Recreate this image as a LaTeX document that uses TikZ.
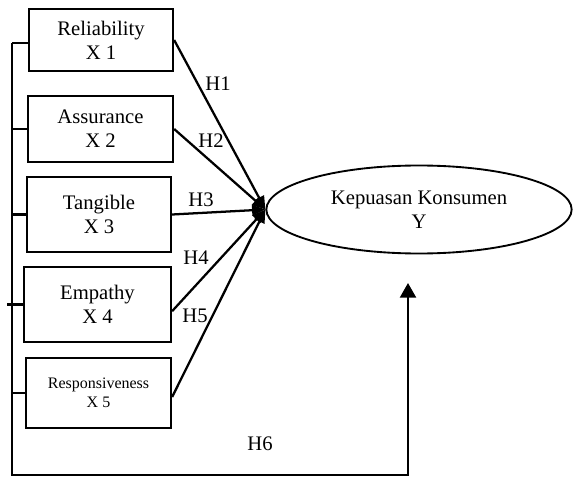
\documentclass[tikz,border=0pt]{standalone}
\usepackage{fontspec}
\setmainfont{Liberation Serif}
\usetikzlibrary{arrows.meta,positioning,shapes.geometric}

\begin{document}
\begin{tikzpicture}[>={Triangle[length=10pt,width=8pt]},x=0.75pt,y=-0.75pt,line width=1.7pt]
\tikzstyle{block}=[draw, rectangle, align=center, inner sep=0pt, font=\fontsize{15.5}{18}\selectfont]
\tikzstyle{lbl}=[inner sep=0pt, font=\fontsize{15.5}{18}\selectfont]
\useasboundingbox (0,0) rectangle (574,477);

\node[block, minimum width=108pt, minimum height=46.5pt] (rel) at (101,40) {Reliability\\X 1};
\node[block, minimum width=108.75pt, minimum height=49.5pt] (asr) at (100.5,129) {Assurance\\X 2};
\node[block, minimum width=108pt, minimum height=56.25pt] (tan) at (99,214.5) {Tangible\\X 3};
\node[block, minimum width=110.25pt, minimum height=56.25pt] (emp) at (97.5,304.5) {Empathy\\X 4};
\node[block, minimum width=108.75pt, minimum height=52.5pt, font=\fontsize{12}{14.25}\selectfont] (res) at (98.5,393) {Responsiveness\\X 5};

\node[draw, ellipse, minimum width=229pt, minimum height=66pt, align=center, inner sep=0pt,
  line width=1.4pt, font=\fontsize{15.5}{18}\selectfont] (kep) at (419,209.5) {Kepuasan Konsumen\\Y};

\node[lbl] (h1) at (218,84) {H1};
\node[lbl] (h2) at (211,141) {H2};
\node[lbl] (h3) at (201,200) {H3};
\node[lbl] (h4) at (196,258) {H4};
\node[lbl] (h5) at (195,316) {H5};
\node[lbl] (h6) at (260,444) {H6};

\draw[->] (rel.east) -- (kep.west);
\draw[->] (asr.east) -- (kep.west);
\draw[->] (tan.east) -- (kep.west);
\draw[->] ([yshift=-5pt]emp.east) -- (kep.west);
\draw[->] ([yshift=-3pt]res.east) -- (kep.west);

% feedback line H6
\coordinate (bt) at (12,43);
\coordinate (bb) at (12,475);
\coordinate (tip) at (408,283);
\draw (bt) -- (bt -| rel.west);
\draw (bt |- asr.west) -- (asr.west);
\draw (bt |- tan.west) -- (tan.west);
\draw ([xshift=-3.75pt]bt |- emp.west) -- (emp.west);
\draw (bt |- res.west) -- (res.west);
\draw[-{Triangle[length=11pt,width=12pt]}] (bt) -- (bb) -| (tip);
\end{tikzpicture}
\end{document}
